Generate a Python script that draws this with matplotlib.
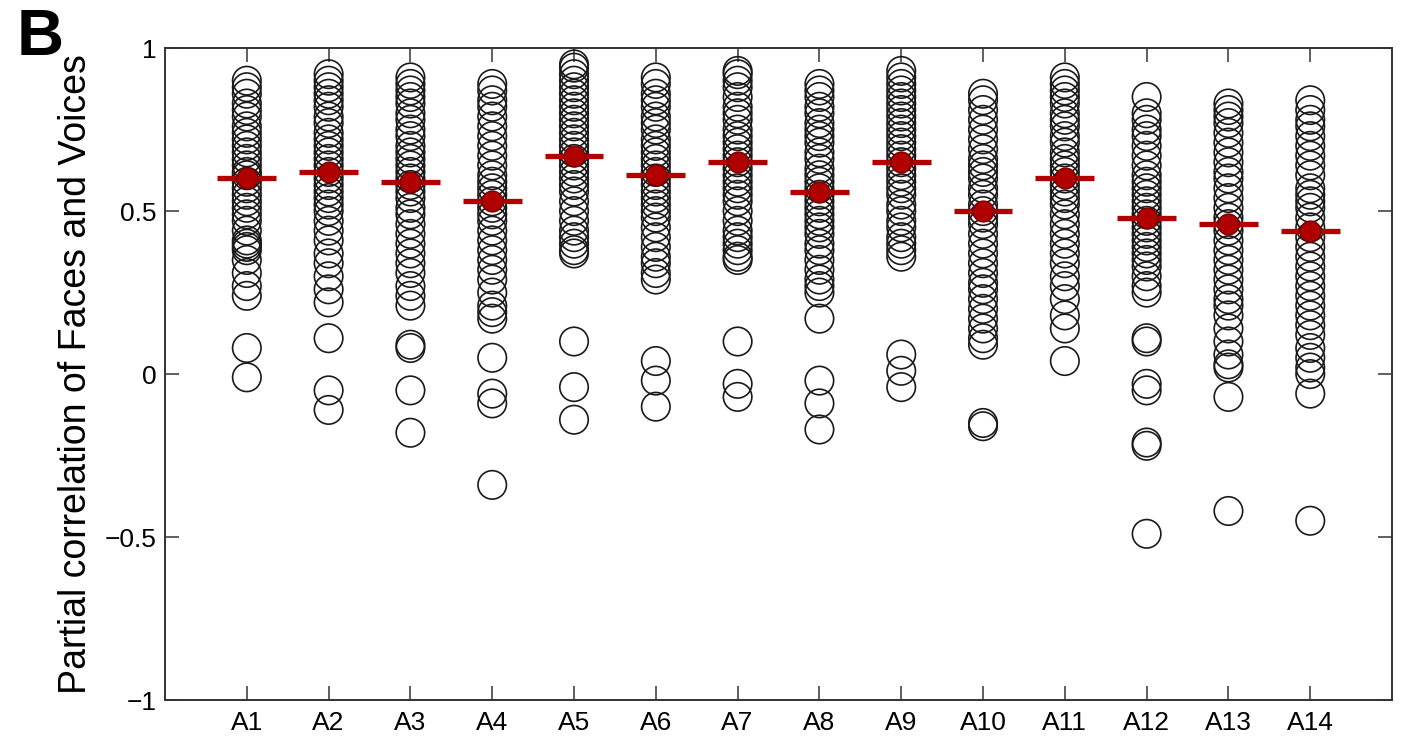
import numpy as np
import matplotlib
matplotlib.use('Agg')
import matplotlib.pyplot as plt

plt.rcParams['font.family'] = ['Liberation Sans', 'DejaVu Sans']

# Region labels
regions = ['A1', 'A2', 'A3', 'A4', 'A5', 'A6', 'A7', 'A8', 'A9', 'A10', 'A11', 'A12', 'A13', 'A14']

# Per-subject partial correlations
A1 = [0.90, 0.88, 0.86, 0.83, 0.81, 0.79, 0.76, 0.74, 0.72, 0.70, 0.68, 0.66, 0.64, 0.62, 0.61, 0.59, 0.57,
      0.55, 0.53, 0.51, 0.49, 0.47, 0.44, 0.41, 0.40, 0.39, 0.38, 0.35, 0.31, 0.27, 0.24, 0.08, -0.01]
A2 = [0.92, 0.90, 0.88, 0.86, 0.84, 0.82, 0.79, 0.77, 0.74, 0.72, 0.70, 0.68, 0.66, 0.64, 0.62, 0.60, 0.58,
      0.56, 0.54, 0.52, 0.50, 0.47, 0.44, 0.41, 0.37, 0.34, 0.30, 0.26, 0.22, 0.11, -0.05, -0.11]
A3 = [0.91, 0.89, 0.87, 0.85, 0.83, 0.80, 0.78, 0.75, 0.73, 0.70, 0.68, 0.66, 0.64, 0.62, 0.60, 0.58, 0.56,
      0.54, 0.51, 0.49, 0.46, 0.43, 0.40, 0.37, 0.34, 0.31, 0.27, 0.24, 0.21, 0.09, 0.08, -0.05, -0.18]
A4 = [0.89, 0.87, 0.84, 0.82, 0.79, 0.76, 0.73, 0.70, 0.67, 0.64, 0.61, 0.59, 0.57, 0.55, 0.53, 0.51, 0.49,
      0.47, 0.44, 0.41, 0.38, 0.35, 0.32, 0.29, 0.25, 0.21, 0.19, 0.17, 0.05, -0.06, -0.09, -0.34]
A5 = [0.95, 0.94, 0.92, 0.90, 0.88, 0.86, 0.84, 0.82, 0.80, 0.78, 0.76, 0.74, 0.72, 0.70, 0.68, 0.66, 0.64,
      0.62, 0.60, 0.58, 0.56, 0.53, 0.50, 0.47, 0.44, 0.42, 0.40, 0.38, 0.37, 0.10, -0.04, -0.14]
A6 = [0.91, 0.89, 0.86, 0.84, 0.82, 0.79, 0.77, 0.75, 0.72, 0.70, 0.68, 0.66, 0.64, 0.62, 0.60, 0.58, 0.56,
      0.54, 0.52, 0.50, 0.48, 0.45, 0.42, 0.39, 0.36, 0.34, 0.31, 0.29, 0.04, -0.02, -0.10]
A7 = [0.93, 0.92, 0.90, 0.88, 0.85, 0.82, 0.80, 0.78, 0.75, 0.73, 0.71, 0.69, 0.67, 0.65, 0.63, 0.61, 0.59,
      0.57, 0.55, 0.53, 0.50, 0.47, 0.44, 0.42, 0.40, 0.38, 0.36, 0.35, 0.10, -0.03, -0.07]
A8 = [0.89, 0.87, 0.85, 0.82, 0.80, 0.77, 0.75, 0.73, 0.71, 0.68, 0.66, 0.63, 0.61, 0.59, 0.57, 0.55, 0.53,
      0.51, 0.49, 0.47, 0.45, 0.43, 0.40, 0.38, 0.35, 0.32, 0.29, 0.27, 0.25, 0.17, -0.02, -0.09, -0.17]
A9 = [0.93, 0.91, 0.89, 0.87, 0.85, 0.83, 0.81, 0.79, 0.77, 0.75, 0.73, 0.71, 0.69, 0.67, 0.65, 0.63, 0.61,
      0.59, 0.57, 0.55, 0.52, 0.50, 0.47, 0.45, 0.42, 0.40, 0.38, 0.36, 0.06, 0.01, -0.04]
A10 = [0.86, 0.84, 0.81, 0.78, 0.75, 0.72, 0.69, 0.66, 0.64, 0.62, 0.60, 0.57, 0.55, 0.52, 0.50, 0.48, 0.46,
       0.43, 0.40, 0.37, 0.34, 0.31, 0.28, 0.26, 0.23, 0.20, 0.17, 0.14, 0.11, 0.09, -0.15, -0.16]
A11 = [0.91, 0.89, 0.87, 0.85, 0.83, 0.80, 0.78, 0.76, 0.73, 0.71, 0.68, 0.66, 0.64, 0.62, 0.60, 0.58, 0.56,
       0.54, 0.52, 0.49, 0.46, 0.43, 0.40, 0.37, 0.34, 0.30, 0.27, 0.23, 0.18, 0.14, 0.04]
A12 = [0.85, 0.80, 0.78, 0.75, 0.73, 0.70, 0.67, 0.64, 0.61, 0.59, 0.57, 0.55, 0.53, 0.51, 0.49, 0.47, 0.45,
       0.43, 0.41, 0.39, 0.37, 0.35, 0.33, 0.30, 0.27, 0.25, 0.11, 0.10, -0.03, -0.05, -0.21, -0.22, -0.49]
A13 = [0.83, 0.81, 0.79, 0.77, 0.74, 0.71, 0.68, 0.65, 0.62, 0.60, 0.57, 0.54, 0.51, 0.48, 0.46, 0.44, 0.41,
       0.38, 0.35, 0.32, 0.29, 0.26, 0.23, 0.21, 0.18, 0.14, 0.10, 0.06, 0.03, 0.02, -0.07, -0.42]
A14 = [0.84, 0.81, 0.78, 0.76, 0.73, 0.70, 0.67, 0.64, 0.61, 0.57, 0.55, 0.53, 0.51, 0.48, 0.45, 0.42, 0.39,
       0.36, 0.33, 0.30, 0.27, 0.24, 0.21, 0.18, 0.15, 0.12, 0.08, 0.05, 0.02, 0.00, -0.06, -0.45]

# Group means (red markers)
means = [0.60, 0.62, 0.59, 0.53, 0.67, 0.61, 0.65, 0.56, 0.65, 0.50, 0.60, 0.48, 0.46, 0.44]

y_ticks = [-1, -0.5, 0, 0.5, 1]
y_ticklabels = ['\u22121', '\u22120.5', '0', '0.5', '1']

subjects = [A1, A2, A3, A4, A5, A6, A7, A8, A9, A10, A11, A12, A13, A14]

fig = plt.figure(figsize=(14.02, 7.40), dpi=100)
ax = fig.add_axes([0.1177, 0.054, 0.8752, 0.881])

xpos = np.arange(1, len(regions) + 1)
for x, vals in zip(xpos, subjects):
    ax.scatter(np.full(len(vals), x), vals, s=420, facecolors='none',
               edgecolors='#1a1a1a', linewidths=1.2, zorder=2)

ax.hlines(means, xpos - 0.36, xpos + 0.36, colors='#b00000', linewidth=3.8, zorder=3)
ax.plot(xpos, means, 'o', color='#b00000', markeredgecolor='#7a0000', markersize=15, zorder=4)

ax.set_xlim(0, 15)
ax.set_ylim(-1, 1)
ax.set_xticks(xpos)
ax.set_xticklabels(regions)
ax.set_yticks(y_ticks)
ax.set_yticklabels(y_ticklabels)
ax.tick_params(direction='in', length=10, width=1.2, labelsize=19, color='#444444',
               top=True, right=True)
ax.tick_params(axis='y', pad=6)
ax.tick_params(axis='x', pad=8)
for s in ax.spines.values():
    s.set_linewidth(1.4)
    s.set_color('#333333')

ax.set_ylabel('Partial correlation of Faces and Voices', fontsize=27)
ax.yaxis.set_label_coords(-0.058, 0.5)
fig.text(0.012, 0.989, 'B', fontsize=47, fontweight='bold', va='top', ha='left')

fig.savefig('out.png', dpi=100)
